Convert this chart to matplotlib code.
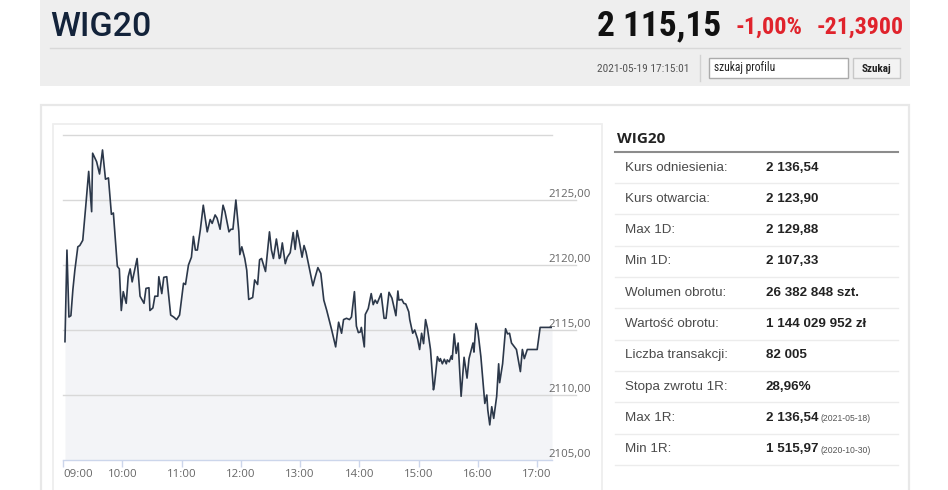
import matplotlib
matplotlib.use("Agg")
import matplotlib.pyplot as plt
from matplotlib import font_manager as fm
from matplotlib.patches import Rectangle

# ---------------- data ----------------
# minutes after 09:00
minutes = [2, 4, 6, 8, 10, 12, 15, 17, 20, 23, 26, 29, 30, 34, 37, 40, 43, 46, 49, 51,
           53, 55, 57, 59, 61, 64, 66, 68, 70, 75, 78, 82, 84, 87, 88, 91, 93, 96, 97, 100,
           102, 105, 109, 112, 115, 118, 122, 124, 127, 130, 132, 134, 136, 139, 142, 146, 149, 151, 154, 156,
           159, 162, 164, 168, 170, 172, 175, 178, 179, 181, 184, 186, 188, 192, 194, 197, 199, 201, 205, 209,
           211, 213, 216, 219, 220, 222, 225, 227, 230, 233, 235, 237, 239, 242, 244, 246, 248, 253, 255, 258,
           261, 264, 267, 272, 276, 279, 282, 284, 287, 290, 292, 295, 297, 299, 301, 302, 305, 306, 309, 312,
           314, 316, 318, 322, 325, 327, 330, 333, 337, 339, 340, 343, 345, 347, 350, 351, 354, 356, 359, 361,
           363, 365, 367, 369, 372, 375, 376, 379, 381, 382, 384, 386, 388, 389, 391, 393, 394, 396, 398, 400,
           403, 406, 409, 411, 414, 415, 416, 418, 420, 423, 427, 429, 430, 432, 434, 436, 439, 441, 442, 445,
           448, 450, 452, 454, 457, 459, 463, 465, 467, 470, 480, 483, 495]
values = [2114.1, 2121.15, 2116.0, 2116.1, 2118.1, 2119.6, 2121.4, 2121.5, 2121.9, 2124.5,
          2127.2, 2124.1, 2128.6, 2127.95, 2127.0, 2128.85, 2126.6, 2126.7, 2123.9, 2124.0,
          2121.9, 2119.9, 2119.7, 2116.5, 2117.95, 2117.05, 2119.1, 2119.7, 2118.7, 2120.5,
          2117.6, 2117.05, 2118.2, 2118.25, 2116.5, 2116.7, 2117.6, 2117.6, 2119.1, 2117.8,
          2119.05, 2119.1, 2116.15, 2116.0, 2115.8, 2116.15, 2118.6, 2118.5, 2120.0, 2120.6,
          2122.2, 2121.15, 2121.15, 2122.7, 2124.6, 2122.55, 2123.5, 2123.2, 2123.85, 2123.6,
          2122.75, 2124.6, 2124.1, 2122.55, 2122.75, 2122.75, 2125.0, 2122.55, 2120.8, 2121.4,
          2120.5, 2119.6, 2117.35, 2117.5, 2118.85, 2118.5, 2120.4, 2120.5, 2119.5, 2122.55,
          2121.15, 2120.5, 2122.0, 2120.5, 2120.6, 2121.7, 2120.1, 2120.6, 2120.95, 2122.5,
          2121.2, 2122.65, 2121.9, 2120.6, 2121.5, 2121.0, 2120.25, 2118.4, 2119.0, 2119.8,
          2119.35, 2117.3, 2116.5, 2115.0, 2113.7, 2115.6, 2114.75, 2115.8, 2115.9, 2115.8,
          2116.0, 2117.95, 2115.3, 2114.8, 2114.85, 2115.2, 2113.7, 2116.2, 2116.65, 2117.8,
          2116.95, 2117.3, 2117.05, 2117.8, 2115.9, 2115.9, 2117.9, 2117.45, 2116.1, 2118.0,
          2117.3, 2117.35, 2117.05, 2117.0, 2116.4, 2115.8, 2114.75, 2115.0, 2114.3, 2113.5,
          2114.75, 2113.95, 2115.8, 2115.1, 2113.5, 2110.4, 2110.8, 2112.95, 2112.6, 2112.8,
          2112.4, 2112.75, 2112.4, 2112.7, 2112.55, 2113.0, 2112.75, 2114.7, 2113.2, 2114.0,
          2109.9, 2112.9, 2111.3, 2112.8, 2113.7, 2114.0, 2113.3, 2115.5, 2114.9, 2112.95,
          2109.35, 2110.0, 2108.85, 2107.7, 2109.1, 2108.2, 2109.9, 2112.4, 2110.95, 2112.4,
          2115.1, 2114.7, 2114.75, 2114.0, 2113.7, 2113.5, 2111.8, 2113.5, 2112.8, 2113.5,
          2113.5, 2115.2, 2115.2]

x_tick_minutes = [0, 60, 120, 180, 240, 300, 360, 420, 480]
x_tick_labels = ["09:00", "10:00", "11:00", "12:00", "13:00", "14:00", "15:00", "16:00", "17:00"]
y_ticks = [2105, 2110, 2115, 2120, 2125, 2130]
y_tick_labels = ["2105,00", "2110,00", "2115,00", "2120,00", "2125,00", ""]

index_name = "WIG20"
last_value = "2 115,15"
change_pct = "-1,00%"
change_abs = "-21,3900"
timestamp = "2021-05-19 17:15:01"
search_placeholder = "szukaj profilu"
search_button = "Szukaj"

row_labels = ["Kurs odniesienia:", "Kurs otwarcia:", "Max 1D:", "Min 1D:", "Wolumen obrotu:",
              "Wartość obrotu:", "Liczba transakcji:", "Stopa zwrotu 1R:", "Max 1R:", "Min 1R:"]
row_values = ["2 136,54", "2 123,90", "2 129,88", "2 107,33", "26 382 848 szt.",
              "1 144 029 952 zł", "82 005", "28,96%", "2 136,54", "1 515,97"]
row_notes = ["", "", "", "", "", "", "", "", "(2021-05-18)", "(2020-10-30)"]


# ---------------- fonts ----------------
def pick(*names):
    for n in names:
        try:
            fm.findfont(fm.FontProperties(family=n), fallback_to_default=False)
            return n
        except Exception:
            pass
    return "DejaVu Sans"

NARROW = pick("Liberation Sans Narrow", "Roboto Condensed", "Liberation Sans")
ARIAL = pick("Liberation Sans", "Arimo", "DejaVu Sans")
OPEN = pick("Open Sans", "Noto Sans", "DejaVu Sans")
ROBOTO = pick("Roboto", "Open Sans", "DejaVu Sans")

W, H = 948, 490
fig = plt.figure(figsize=(W / 100, H / 100), dpi=100)
fig.patch.set_facecolor("white")

# overlay in pixel coordinates
ov = fig.add_axes([0, 0, 1, 1], zorder=0)
ov.set_xlim(0, W)
ov.set_ylim(H, 0)
ov.axis("off")

# header band
ov.add_patch(Rectangle((40, 0), 870, 86, facecolor="#eeeeee", edgecolor="none"))
ov.plot([50, 900], [48, 48], color="#d8d8d8", lw=1)
ov.text(50, 36.5, index_name, fontsize=24.5, family=ROBOTO, weight="medium",
        color="#13233a", va="baseline", ha="left")
ov.text(597, 35, last_value, fontsize=25.5, family=NARROW, weight="bold",
        color="#111111", va="baseline", ha="left")
ov.text(736, 33.5, change_pct, fontsize=17.5, family=NARROW, weight="bold",
        color="#e0232c", va="baseline", ha="left")
ov.text(817, 33.5, change_abs, fontsize=17.2, family=NARROW, weight="bold",
        color="#e0232c", va="baseline", ha="left")
ov.text(597, 72.5, timestamp, fontsize=8.2, family=NARROW,
        color="#555555", va="baseline", ha="left")
ov.plot([700, 700], [55, 81], color="#d2d2d2", lw=1)
ov.add_patch(Rectangle((709, 58), 139, 20, facecolor="white", edgecolor="#ababab", lw=1))
ov.text(714, 68, search_placeholder, fontsize=8.3, family=NARROW,
        color="#222222", va="center", ha="left")
ov.add_patch(Rectangle((853, 58), 47, 20, facecolor="#f3f3f3", edgecolor="#c8c8c8", lw=1))
ov.text(876.5, 69, search_button, fontsize=8, family=NARROW, weight="bold",
        color="#222222", va="center", ha="center")

# panel boxes
ov.add_patch(Rectangle((41, 105), 868, 420, facecolor="white", edgecolor="#e8e8e8", lw=1.6))
ov.add_patch(Rectangle((53, 124), 549, 400, facecolor="white", edgecolor="#eeeeee", lw=1.3))

# right table
ov.text(617, 143, index_name, fontsize=11, family=OPEN, weight="bold",
        color="#222222", va="baseline", ha="left")
ov.plot([615, 898], [152, 152], color="#8c8c8c", lw=1.5)
for i, (lab, val, note) in enumerate(zip(row_labels, row_values, row_notes)):
    yc = 167.5 + i * 31.3
    ov.text(625, yc, lab, fontsize=9.6, family=ARIAL, color="#4a4a4a",
            va="center", ha="left")
    ov.text(766, yc, val, fontsize=9.6, family=ARIAL, weight="bold", color="#222222",
            va="center", ha="left")
    if note:
        ov.text(821, yc + 1, note, fontsize=6.2, family=ARIAL, color="#555555",
                va="center", ha="left")
    ov.plot([615, 898], [yc + 15.6, yc + 15.6], color="#ececec", lw=1)

# ---------------- chart ----------------
x0, x1, ytop, ybot = 63, 552, 135, 460
ax = fig.add_axes([x0 / W, 1 - ybot / H, (x1 - x0) / W, (ybot - ytop) / H], zorder=2)
ax.patch.set_alpha(0)
ax.set_xlim(0, 495)
ax.set_ylim(2105, 2130)

ax.fill_between(minutes, values, 2105, color="#f3f4f7", lw=0, zorder=1)
ax.plot(minutes, values, color="#2c384a", lw=1.2, zorder=3)

for v in y_ticks[1:]:
    ext = 1.0 if v == y_ticks[-1] else 1.05
    ax.axhline(v, xmin=0, xmax=ext, color="#d8d8d8", lw=1, clip_on=False, zorder=2)

for s in ["top", "left", "right"]:
    ax.spines[s].set_visible(False)
ax.spines["bottom"].set_color("#ccd6eb")
ax.spines["bottom"].set_linewidth(1)

ax.set_xticks(x_tick_minutes)
ax.set_xticklabels(x_tick_labels)
ax.tick_params(axis="x", direction="out", length=5, width=1, color="#ccd6eb",
               labelsize=8.2, labelcolor="#666666", pad=1.5)
for t in ax.get_xticklabels():
    t.set_family(OPEN)
ax.get_xticklabels()[0].set_horizontalalignment("left")

ax.yaxis.tick_right()
ax.set_yticks(y_ticks)
ax.set_yticklabels(y_tick_labels)
ax.tick_params(axis="y", length=0, labelsize=8.2, labelcolor="#666666", pad=-2.5)
for t in ax.get_yticklabels():
    t.set_family(OPEN)
    t.set_verticalalignment("bottom")

fig.savefig("out.png", dpi=100, facecolor="white")
